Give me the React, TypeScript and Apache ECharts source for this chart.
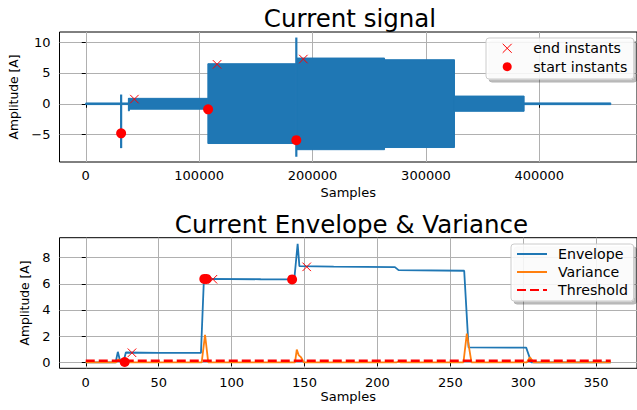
import React, { useEffect, useRef } from 'react';
import * as echarts from 'echarts';

// ---- Top plot: current signal (oscillating blocks drawn as amplitude bands) ----
// [startSample, endSample, low, high]
const signalBands = [
  [0, 31000, -0.13, 0.13],
  [31000, 38000, -0.13, 0.13],
  [37600, 38500, -1.15, 0.88],
  [38000, 107700, -0.88, 0.88],
  [107700, 185300, -6.45, 6.5],
  [186000, 263500, -7.45, 7.42],
  [263500, 325200, -7.1, 7.15],
  [325200, 386600, -1.22, 1.25],
  [386600, 463000, -0.14, 0.14],
];
// [sample, low, high]
const signalSpikes = [
  [31200, -7.2, 1.5],
  [185700, -8.6, 10.75],
];
const signalEndInstants = [
  [42900, 0.76],
  [115800, 6.4],
  [191900, 7.26],
];
const signalStartInstants = [
  [31200, -4.8],
  [107900, -0.9],
  [185700, -5.9],
];
const signalXTicks = [0, 100000, 200000, 300000, 400000];
const signalYTicks = [-5, 0, 5, 10];

// ---- Bottom plot: envelope & variance ----
const envelope = [
  [0, 0], [20.5, 0], [22, 0.8], [23.5, 0.12], [26, 0.1], [27.5, 0.75], [50, 0.72], [79, 0.72],
  [81, 6.3], [82, 6.38], [120, 6.35], [143, 6.34], [145.3, 9.07], [146.5, 7.36], [170, 7.32],
  [212, 7.28], [214.5, 7.05], [259.5, 7.0], [262.5, 1.14], [302, 1.12], [305.5, 0], [360, 0],
];
const variance = [
  [0, 0], [21, 0], [22.5, 0.22], [24, 0.05], [26, 0.1], [27.5, 0], [79.5, 0], [81.8, 2.1], [84, 0],
  [143.5, 0], [144.7, 0.97], [146, 0.55], [147.5, 0.4], [149.5, 0], [213, 0], [214.5, 0.05], [216, 0],
  [259, 0], [261.3, 2.2], [264.5, 0], [302.5, 0], [304.6, 0.38], [307, 0], [360, 0],
];
const threshold = [[0, 0.12], [360, 0.12]];
const envEndInstants = [
  [31.7, 0.73],
  [87.2, 6.35],
  [151.5, 7.3],
];
const envStartInstants = [
  [26.7, 0.02],
  [81.3, 6.38],
  [82.8, 6.38],
  [141.5, 6.34],
];
const envXTicks = [0, 50, 100, 150, 200, 250, 300, 350];
const envYTicks = [0, 2, 4, 6, 8];

const FONT = 'DejaVu Sans';
const BLUE = '#1f77b4';
const ORANGE = '#ff7f0e';
const RED = '#ff0000';
const X_MARK = 'path://M0,0L10,10M0,10L10,0';

const fmt = (v: number) => (v < 0 ? '\u2212' + Math.abs(v) : String(v));

function axisBase(ticks: number[], labelMargin: number) {
  return {
    type: 'value',
    axisLine: { show: false },
    axisTick: { show: true, inside: false, length: 4, customValues: ticks, lineStyle: { color: '#000', width: 1 } },
    axisLabel: {
      customValues: ticks,
      formatter: fmt,
      color: '#000',
      fontFamily: FONT,
      fontSize: 13,
      margin: labelMargin,
    },
    splitLine: { show: true, lineStyle: { color: '#b0b0b0', width: 1 } },
  };
}

export default function App() {
  const ref = useRef<HTMLDivElement>(null);
  useEffect(() => {
    if (!ref.current) return;
    const chart = echarts.init(ref.current, null, { renderer: 'svg' });
    const legendCommon = {
      orient: 'vertical',
      backgroundColor: 'rgba(255,255,255,0.85)',
      borderColor: '#cccccc',
      borderWidth: 1,
      borderRadius: 3,
      shadowColor: 'rgba(0,0,0,0.3)',
      shadowBlur: 0,
      shadowOffsetX: 3,
      shadowOffsetY: 3,
    };
    chart.setOption({
      animation: false,
      backgroundColor: '#fff',
      graphic: [
        {
          type: 'text', x: 350, y: 18,
          style: { text: 'Current signal', fontFamily: FONT, fontSize: 24.5, fill: '#000', align: 'center', verticalAlign: 'middle' },
        },
        {
          type: 'text', x: 351.5, y: 224,
          style: { text: 'Current Envelope & Variance', fontFamily: FONT, fontSize: 24.5, fill: '#000', align: 'center', verticalAlign: 'middle' },
        },
      ],
      legend: [
        {
          ...legendCommon,
          left: 486, top: 38,
          padding: [3.3, 6.5, 5.3, 16.2],
          itemWidth: 9, itemHeight: 9, itemGap: 4.4,
          itemStyle: { borderWidth: 1 },
          data: ['end instants', 'start instants'],
          textStyle: { fontFamily: FONT, fontSize: 14.2, color: '#000', padding: [0, 0, 0, 16.5], lineHeight: 14 },
        },
        {
          ...legendCommon,
          left: 511, top: 244,
          padding: [3, 5.7, 4, 5],
          itemWidth: 30, itemHeight: 14, itemGap: 4,
          itemStyle: { opacity: 0, color: 'rgba(0,0,0,0)', borderWidth: 0 },
          data: ['Envelope', 'Variance', 'Threshold'],
          textStyle: { fontFamily: FONT, fontSize: 14.2, color: '#000', padding: [0, 0, 0, 6], lineHeight: 14 },
        },
      ],
      grid: [
        { left: 59.5, top: 32, width: 582, height: 130, show: true, borderColor: '#000', borderWidth: 1, backgroundColor: 'transparent' },
        { left: 59.5, top: 237.7, width: 582, height: 130.6, show: true, borderColor: '#000', borderWidth: 1, backgroundColor: 'transparent' },
      ],
      xAxis: [
        {
          ...axisBase(signalXTicks, 7),
          gridIndex: 0, min: -23150, max: 486150,
          name: 'Samples', nameLocation: 'middle', nameGap: 24,
          nameTextStyle: { fontFamily: FONT, fontSize: 13, color: '#000' },
        },
        {
          ...axisBase(envXTicks, 8),
          gridIndex: 1, min: -18, max: 378,
          name: 'Samples', nameLocation: 'middle', nameGap: 22,
          nameTextStyle: { fontFamily: FONT, fontSize: 13, color: '#000' },
        },
      ],
      yAxis: [
        {
          ...axisBase(signalYTicks, 9),
          gridIndex: 0, min: -9.45, max: 11.65,
          name: 'Amplitude [A]', nameLocation: 'middle', nameGap: 38, nameRotate: 90,
          nameTextStyle: { fontFamily: FONT, fontSize: 12.3, color: '#000' },
        },
        {
          ...axisBase(envYTicks, 9),
          gridIndex: 1, min: -0.46, max: 9.53,
          name: 'Amplitude [A]', nameLocation: 'middle', nameGap: 26, nameRotate: 90,
          nameTextStyle: { fontFamily: FONT, fontSize: 12.3, color: '#000' },
        },
      ],
      series: [
        {
          type: 'custom',
          name: 'signal',
          xAxisIndex: 0, yAxisIndex: 0,
          data: signalBands,
          encode: { x: [0, 1], y: [2, 3] },
          renderItem: (params: any, api: any) => {
            const p1 = api.coord([api.value(0), api.value(3)]);
            const p2 = api.coord([api.value(1), api.value(2)]);
            return {
              type: 'rect',
              shape: { x: p1[0], y: p1[1], width: p2[0] - p1[0], height: p2[1] - p1[1] },
              style: { fill: BLUE, stroke: BLUE, lineWidth: 1 },
            };
          },
        },
        {
          type: 'custom',
          name: 'spikes',
          xAxisIndex: 0, yAxisIndex: 0,
          data: signalSpikes,
          encode: { x: 0, y: [1, 2] },
          renderItem: (params: any, api: any) => {
            const p1 = api.coord([api.value(0), api.value(2)]);
            const p2 = api.coord([api.value(0), api.value(1)]);
            return {
              type: 'line',
              shape: { x1: p1[0], y1: p1[1], x2: p2[0], y2: p2[1] },
              style: { stroke: BLUE, lineWidth: 2.2 },
            };
          },
        },
        {
          type: 'scatter', name: 'end instants',
          xAxisIndex: 0, yAxisIndex: 0,
          data: signalEndInstants,
          symbol: X_MARK, symbolSize: 8.5, symbolKeepAspect: true,
          itemStyle: { color: 'rgba(0,0,0,0)', borderColor: RED, borderWidth: 1, opacity: 1 },
          z: 5,
        },
        {
          type: 'scatter', name: 'start instants',
          xAxisIndex: 0, yAxisIndex: 0,
          data: signalStartInstants,
          symbol: 'circle', symbolSize: 10, symbolKeepAspect: true,
          itemStyle: { color: RED, opacity: 1 },
          z: 5,
        },
        {
          type: 'line', name: 'Envelope',
          xAxisIndex: 1, yAxisIndex: 1,
          data: envelope, symbol: 'none', showSymbol: false,
          lineStyle: { color: BLUE, width: 1.8 },
          itemStyle: { color: BLUE },
        },
        {
          type: 'line', name: 'Variance',
          xAxisIndex: 1, yAxisIndex: 1,
          data: variance, symbol: 'none', showSymbol: false,
          lineStyle: { color: ORANGE, width: 1.8 },
          itemStyle: { color: ORANGE },
        },
        {
          type: 'line', name: 'Threshold',
          xAxisIndex: 1, yAxisIndex: 1,
          data: threshold, symbol: 'none', showSymbol: false,
          lineStyle: { color: RED, width: 2.6, type: [9, 4] },
          itemStyle: { color: RED },
        },
        {
          type: 'scatter', name: 'env end instants',
          xAxisIndex: 1, yAxisIndex: 1,
          data: envEndInstants,
          symbol: X_MARK, symbolSize: 8.5,
          itemStyle: { color: 'rgba(0,0,0,0)', borderColor: RED, borderWidth: 1, opacity: 1 },
          z: 5,
        },
        {
          type: 'scatter', name: 'env start instants',
          xAxisIndex: 1, yAxisIndex: 1,
          data: envStartInstants,
          symbol: 'circle', symbolSize: 10,
          itemStyle: { color: RED, opacity: 1 },
          z: 5,
        },
      ],
    });
    return () => chart.dispose();
  }, []);
  return <div ref={ref} style={{ position: 'absolute', left: 0, top: 0, width: 637, height: 410 }} />;
}
